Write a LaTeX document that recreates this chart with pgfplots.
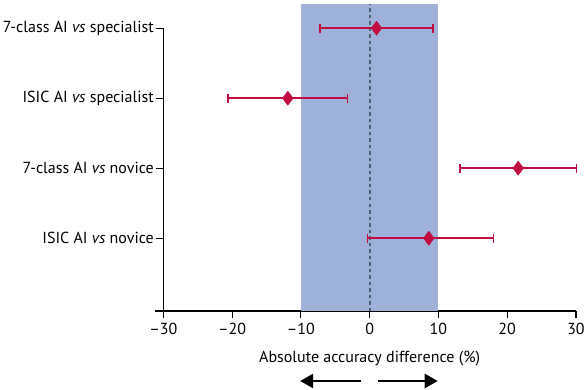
\documentclass[border=0pt]{standalone}
\usepackage{fontspec}
\setmainfont{PT Sans}
\usepackage{pgfplots}
\pgfplotsset{compat=1.18}
\usetikzlibrary{arrows.meta}
\definecolor{bandblue}{RGB}{159,177,216}
\definecolor{crim}{RGB}{192,12,62}
\definecolor{dashc}{RGB}{72,96,112}
\begin{document}
\begin{tikzpicture}[font=\fontsize{16bp}{19bp}\selectfont]
\begin{axis}[
  at={(0,0)}, anchor=south west,
  scale only axis,
  width=412.7bp, height=282.8bp,
  xmin=-30, xmax=30, ymin=-0.04, ymax=4,
  clip=false,
  axis x line=bottom, axis y line=left,
  axis line style={-, line width=1.1bp, black},
  xtick={-30,-20,-10,0,10,20,30},
  xticklabels={–30,–20,–10,0,10,20,30},
  ytick={1,2,3,4},
  yticklabels={ISIC AI \textit{vs} novice, 7-class AI \textit{vs} novice, ISIC AI \textit{vs} specialist, 7-class AI \textit{vs} specialist},
  tick align=outside,
  major tick length=7bp,
  tick style={line width=1.1bp, black},
  xlabel={Absolute accuracy difference (\%)},
  xlabel style={yshift=-9bp},
  tick label style={font=\fontsize{16bp}{19bp}\selectfont},
  label style={font=\fontsize{16bp}{19bp}\selectfont},
  xticklabel style={yshift=-2bp},
  yticklabel style={xshift=1bp},
]
\addplot[fill=bandblue, draw=none] coordinates {(-10,-0.04) (-10,4.34) (10,4.34) (10,-0.04)} -- cycle;
\addplot[dashc, line width=2bp, dash pattern=on 3.5bp off 3bp] coordinates {(0,-0.04) (0,4.34)};
\addplot[crim, line width=1.5bp, mark=diamond*, mark size=7bp, mark options={solid, fill=crim, draw=crim, line width=0.5bp}, only marks,
  error bars/.cd, x dir=both, x explicit,
  error bar style={line width=1.5bp, crim},
  error mark=|,
  error mark options={line width=1.5bp, crim, mark size=4.5bp}]
  table[x=x, y=y, x error minus=em, x error plus=ep] {
x y em ep
1.0 4 8.2 8.2
-11.9 3 8.7 8.7
21.6 2 8.5 8.5
8.6 1 8.9 9.4
};
\draw[line width=1.1bp] (axis cs:-30,-0.04) -- ([xshift=-8bp]axis cs:-30,-0.04);
\draw[line width=2.6bp, -{Triangle[length=13bp, width=14bp]}] (axis cs:-1.3,-1.04) -- (axis cs:-10.1,-1.04);
\draw[line width=2.6bp, -{Triangle[length=13bp, width=14bp]}] (axis cs:1.2,-1.04) -- (axis cs:9.9,-1.04);
\end{axis}
\pgfresetboundingbox
\path[use as bounding box] (-163.3bp,-79bp) rectangle (421.7bp,311bp);
\end{tikzpicture}
\end{document}
